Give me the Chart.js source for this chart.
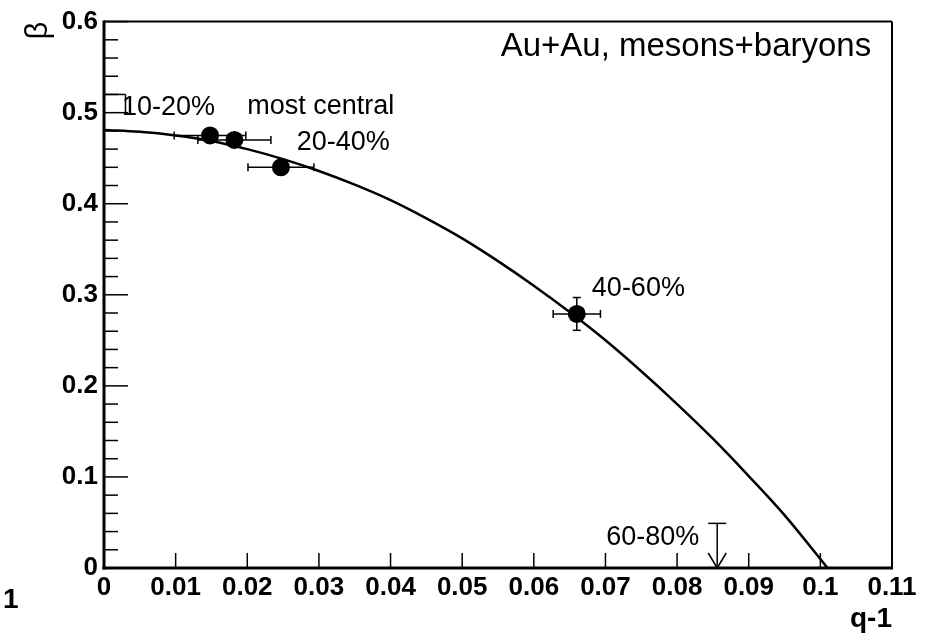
<!DOCTYPE html>
<html>
<head>
<meta charset="utf-8">
<script src="https://cdn.jsdelivr.net/npm/chart.js@4.4.1/dist/chart.umd.min.js"></script>
<style>
  html, body { margin: 0; padding: 0; background: #fff; }
  canvas { display: block; }
</style>
</head>
<body>
<canvas id="betaChart" width="927" height="636"></canvas>
<script>
// centrality classes with their fit values
const centrality = ["10-20%", "most central", "20-40%", "40-60%"];
const qMinus1 = [0.0148, 0.0182, 0.0247, 0.0660];
const qErr = [0.0050, 0.0051, 0.0046, 0.0033];
const beta = [0.475, 0.470, 0.440, 0.279];
const betaErr = [0.004, 0.004, 0.004, 0.018];

// 60-80%: only an upper limit on beta
const limitLabel = ["60-80%"];
const limitQ = [0.0856];
const limitBeta = [0.049];

// fitted curve
const curveQ = [0, 0.005, 0.010, 0.015, 0.020, 0.025, 0.030, 0.035, 0.040, 0.045, 0.050,
  0.055, 0.060, 0.065, 0.070, 0.075, 0.080, 0.085, 0.090, 0.095, 0.101];
const curveBeta = [0.481, 0.479, 0.475, 0.469, 0.460, 0.449, 0.436, 0.421, 0.404, 0.384, 0.362,
  0.337, 0.310, 0.281, 0.250, 0.216, 0.180, 0.142, 0.101, 0.058, 0.0];

const xTicks = [0, 0.01, 0.02, 0.03, 0.04, 0.05, 0.06, 0.07, 0.08, 0.09, 0.1, 0.11];
const xTickLabels = ["0", "0.01", "0.02", "0.03", "0.04", "0.05", "0.06", "0.07", "0.08", "0.09", "0.1", "0.11"];
const yTicks = [0, 0.1, 0.2, 0.3, 0.4, 0.5, 0.6];
const yTickLabels = ["0", "0.1", "0.2", "0.3", "0.4", "0.5", "0.6"];

const FONT = '"Liberation Sans", Arial, Helvetica, sans-serif';

// text labels placed in data coordinates
const notes = [
  { text: "Au+Au, mesons+baryons", x: 0.1071, y: 0.562, align: "right", size: 33 },
  { text: centrality[0], x: 0.0025, y: 0.497, align: "left", size: 27 },
  { text: centrality[1], x: 0.0200, y: 0.499, align: "left", size: 27 },
  { text: centrality[2], x: 0.0269, y: 0.459, align: "left", size: 27 },
  { text: centrality[3], x: 0.0681, y: 0.299, align: "left", size: 27 },
  { text: limitLabel[0], x: 0.0701, y: 0.025, align: "left", size: 27 },
];

function seg(ctx, x1, y1, x2, y2) {
  ctx.beginPath();
  ctx.moveTo(x1, y1);
  ctx.lineTo(x2, y2);
  ctx.stroke();
}

// ROOT-like frame: ticks inside, error bars, upper limit, labels
const rootStyle = {
  id: "rootStyle",
  beforeDatasetsDraw(chart) {
    const ctx = chart.ctx;
    const xs = chart.scales.x, ys = chart.scales.y;
    ctx.save();
    ctx.strokeStyle = "#000";
    ctx.lineWidth = 1.5;
    qMinus1.forEach((q, i) => {
      const px = xs.getPixelForValue(q);
      const py = ys.getPixelForValue(beta[i]);
      const x1 = xs.getPixelForValue(q - qErr[i]);
      const x2 = xs.getPixelForValue(q + qErr[i]);
      const y1 = ys.getPixelForValue(beta[i] - betaErr[i]);
      const y2 = ys.getPixelForValue(beta[i] + betaErr[i]);
      seg(ctx, x1, py, x2, py);
      seg(ctx, x1, py - 4, x1, py + 4);
      seg(ctx, x2, py - 4, x2, py + 4);
      seg(ctx, px, y1, px, y2);
      seg(ctx, px - 4, y1, px + 4, y1);
      seg(ctx, px - 4, y2, px + 4, y2);
    });
    // upper limit arrow
    limitQ.forEach((q, i) => {
      const px = xs.getPixelForValue(q);
      const top = ys.getPixelForValue(limitBeta[i]);
      const bot = ys.getPixelForValue(0);
      seg(ctx, px, top, px, bot);
      seg(ctx, px - 9, top, px + 9, top);
      seg(ctx, px - 9, bot - 15, px, bot);
      seg(ctx, px, bot, px + 9, bot - 15);
    });
    ctx.restore();
  },
  afterDraw(chart) {
    const ctx = chart.ctx;
    const xs = chart.scales.x, ys = chart.scales.y;
    const a = chart.chartArea;
    ctx.save();
    ctx.strokeStyle = "#000";

    // ticks drawn inside the frame
    ctx.lineWidth = 1.5;
    for (let k = 0; k <= 30; k++) {
      const py = ys.getPixelForValue(k * 0.02);
      seg(ctx, a.left, py, a.left + (k % 5 === 0 ? 24 : 14), py);
    }
    xTicks.forEach(v => {
      const px = xs.getPixelForValue(v);
      seg(ctx, px, a.bottom, px, a.bottom - 15);
    });
    // small bracket next to the 10-20% label
    const bx = xs.getPixelForValue(0.003);
    seg(ctx, a.left, ys.getPixelForValue(0.52), bx, ys.getPixelForValue(0.52));
    seg(ctx, bx, ys.getPixelForValue(0.52), bx, ys.getPixelForValue(0.5));

    // frame
    ctx.lineWidth = 2;
    seg(ctx, a.left, a.top, a.right, a.top);
    seg(ctx, a.right, a.top, a.right, a.bottom);
    ctx.lineWidth = 3;
    seg(ctx, a.left, a.top - 1, a.left, a.bottom + 1.5);
    seg(ctx, a.left - 1.5, a.bottom, a.right + 1, a.bottom);

    // labels
    ctx.fillStyle = "#000";
    ctx.textBaseline = "alphabetic";
    notes.forEach(n => {
      ctx.font = n.size + "px " + FONT;
      ctx.textAlign = n.align;
      ctx.fillText(n.text, xs.getPixelForValue(n.x), ys.getPixelForValue(n.y));
    });
    ctx.font = "bold 28px " + FONT;
    ctx.textAlign = "left";
    ctx.fillText("1", 3, 608);
    ctx.restore();
  }
};

const ctx = document.getElementById("betaChart").getContext("2d");

new Chart(ctx, {
  type: "scatter",
  data: {
    datasets: [
      {
        label: "fit",
        data: curveQ.map((q, i) => ({ x: q, y: curveBeta[i] })),
        showLine: true,
        borderColor: "#000",
        borderWidth: 2.5,
        pointRadius: 0,
        tension: 0.35,
      },
      {
        label: "Au+Au",
        data: qMinus1.map((q, i) => ({ x: q, y: beta[i] })),
        pointRadius: 9,
        pointHoverRadius: 9,
        backgroundColor: "#000",
        borderWidth: 0,
      },
    ],
  },
  options: {
    responsive: false,
    animation: false,
    devicePixelRatio: 1,
    layout: { padding: { top: 16, right: 35, bottom: 0, left: 0 } },
    plugins: {
      legend: { display: false },
      tooltip: { enabled: false },
    },
    scales: {
      x: {
        type: "linear",
        min: 0,
        max: 0.11,
        afterBuildTicks: s => { s.ticks = xTicks.map(v => ({ value: v })); },
        afterFit: s => { s.height = 68; },
        grid: { display: false, drawTicks: false },
        border: { display: false },
        ticks: {
          autoSkip: false,
          maxRotation: 0,
          padding: 4,
          color: "#000",
          font: { family: FONT, size: 26, weight: "bold" },
          callback: (v, i) => xTickLabels[i],
        },
        title: {
          display: true,
          text: "q-1",
          align: "end",
          color: "#000",
          padding: 0,
          font: { family: FONT, size: 28, weight: "bold" },
        },
      },
      y: {
        type: "linear",
        min: 0,
        max: 0.6,
        afterBuildTicks: s => { s.ticks = yTicks.map(v => ({ value: v })); },
        afterFit: s => { s.width = 104; },
        grid: { display: false, drawTicks: false },
        border: { display: false },
        ticks: {
          autoSkip: false,
          padding: 6,
          color: "#000",
          font: { family: FONT, size: 26, weight: "bold" },
          callback: (v, i) => yTickLabels[i],
        },
        title: {
          display: true,
          text: "β",
          align: "end",
          color: "#000",
          padding: { top: 20, bottom: 0 },
          font: { family: FONT, size: 31 },
        },
      },
    },
  },
  plugins: [rootStyle],
});
</script>
</body>
</html>
